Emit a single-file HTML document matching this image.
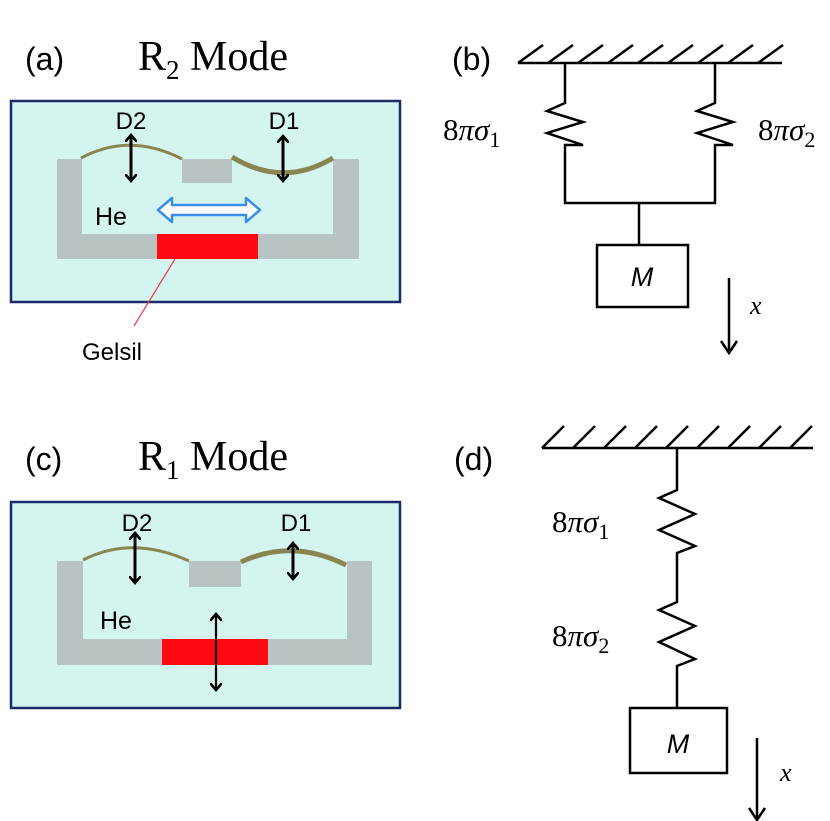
<!DOCTYPE html>
<html><head><meta charset="utf-8"><style>
html,body{margin:0;padding:0;background:#fff;}
svg{display:block;}
.s{font-family:"Liberation Sans",sans-serif;}
.r{font-family:"Liberation Serif",serif;}
</style></head><body>
<svg width="830" height="821" viewBox="0 0 830 821" xmlns="http://www.w3.org/2000/svg">
<defs>
<marker id="ah" markerWidth="12" markerHeight="12" refX="5" refY="6" orient="auto-start-reverse" markerUnits="userSpaceOnUse">
<path d="M0,0 L7,6 L0,12" fill="none" stroke="#000" stroke-width="2.6"/>
</marker>
</defs>
<!-- titles -->
<text x="25" y="70" class="s" font-size="32">(a)</text>
<text x="138" y="70" class="r" font-size="42">R<tspan font-size="27" dy="9">2</tspan><tspan dy="-9"> Mode</tspan></text>
<text x="25" y="470" class="s" font-size="32">(c)</text>
<text x="138" y="470" class="r" font-size="42">R<tspan font-size="27" dy="9">1</tspan><tspan dy="-9"> Mode</tspan></text>

<!-- panel a -->
<rect x="11" y="101" width="389" height="201" fill="#d4f5ef" stroke="#1a2a6a" stroke-width="2.5"/>
<path d="M57,159 H82 V234 H333 V159 H359 V259 H57 Z" fill="#b8c4c4"/>
<rect x="182" y="159" width="50" height="24" fill="#b8c4c4"/>
<rect x="157" y="234" width="101" height="25" fill="#ff0a12"/>
<path d="M81,158 Q130,132 182,159" fill="none" stroke="#8a8450" stroke-width="3"/>
<path d="M232,157 Q283,188 333,158" fill="none" stroke="#8a8450" stroke-width="5"/>
<line x1="131" y1="137" x2="131" y2="179" stroke="#000" stroke-width="3" marker-start="url(#ah)" marker-end="url(#ah)"/>
<line x1="283" y1="138" x2="283" y2="179" stroke="#000" stroke-width="3" marker-start="url(#ah)" marker-end="url(#ah)"/>
<text x="131" y="129" class="s" font-size="24" text-anchor="middle">D2</text>
<text x="284" y="129" class="s" font-size="24" text-anchor="middle">D1</text>
<text x="95" y="225" class="s" font-size="25">He</text>
<path d="M158,210 L172,198 V205 H246 V198 L260,210 L246,222 V215 H172 V222 Z" fill="#fff" stroke="#3a8ee8" stroke-width="2.5" stroke-linejoin="round"/>
<line x1="175" y1="259" x2="134" y2="326" stroke="#e84050" stroke-width="1.2"/>
<text x="82" y="360" class="s" font-size="24">Gelsil</text>

<!-- panel c -->
<rect x="11" y="502" width="389" height="206" fill="#d4f5ef" stroke="#1a2a6a" stroke-width="2.5"/>
<path d="M57,561 H83 V639 H347 V561 H372 V665 H57 Z" fill="#b8c4c4"/>
<rect x="189" y="561" width="52" height="26" fill="#b8c4c4"/>
<rect x="162" y="639" width="106" height="26" fill="#ff0a12"/>
<path d="M83,560 Q132,535 189,561" fill="none" stroke="#8a8450" stroke-width="3"/>
<path d="M241,562 Q292,538 346,565" fill="none" stroke="#8a8450" stroke-width="5"/>
<line x1="135" y1="535" x2="135" y2="581" stroke="#000" stroke-width="3" marker-start="url(#ah)" marker-end="url(#ah)"/>
<line x1="293" y1="545" x2="293" y2="577" stroke="#000" stroke-width="3" marker-start="url(#ah)" marker-end="url(#ah)"/>
<line x1="216" y1="616" x2="216" y2="688" stroke="#000" stroke-width="2.2" marker-start="url(#ah)" marker-end="url(#ah)"/>
<text x="137" y="531" class="s" font-size="24" text-anchor="middle">D2</text>
<text x="296" y="531" class="s" font-size="24" text-anchor="middle">D1</text>
<text x="100" y="629" class="s" font-size="25">He</text>

<!-- panel b -->
<text x="452" y="70" class="s" font-size="32">(b)</text>
<g stroke="#000" stroke-width="2.5" fill="none">
<line x1="518" y1="63" x2="782" y2="63"/>
<path d="M518,63 l25,-18 M548,63 l25,-18 M578,63 l25,-18 M608,63 l25,-18 M638,63 l25,-18 M668,63 l25,-18 M698,63 l25,-18 M728,63 l25,-18 M758,63 l25,-18"/>
<path d="M565,63 V103 L547,111 L583,122 L547,133 L583,145 L565,145 V203 H715 V145 L733,145 L697,133 L733,122 L697,111 L715,103 V63"/>
<line x1="639" y1="203" x2="639" y2="245"/>
<rect x="597" y="245" width="91" height="62"/>
<line x1="729" y1="278" x2="729" y2="351"/>
<path d="M721,341 L729,353 L737,341"/>
</g>
<text x="642" y="286" class="s" font-size="27" font-style="italic" text-anchor="middle">M</text>
<text x="750" y="314" class="r" font-size="26" font-style="italic">x</text>
<text x="443" y="140" class="r" font-size="31">8<tspan font-style="italic">πσ</tspan><tspan font-size="22" dy="7">1</tspan></text>
<text x="758" y="140" class="r" font-size="31">8<tspan font-style="italic">πσ</tspan><tspan font-size="22" dy="7">2</tspan></text>

<!-- panel d -->
<text x="454" y="470" class="s" font-size="32">(d)</text>
<g stroke="#000" stroke-width="2.5" fill="none">
<line x1="542" y1="448" x2="813" y2="448"/>
<path d="M542,448 l22,-22 M573,448 l22,-22 M604,448 l22,-22 M635,448 l22,-22 M666,448 l22,-22 M697,448 l22,-22 M728,448 l22,-22 M759,448 l22,-22 M790,448 l22,-22"/>
<path d="M677,448 V490 L659,498 L695,514 L659,530 L695,546 L677,553 V602 L659,610 L695,626 L659,642 L695,659 L677,666 V707"/>
<rect x="630" y="708" width="97" height="65"/>
<line x1="757" y1="738" x2="757" y2="818"/>
<path d="M749,808 L757,820 L765,808"/>
</g>
<text x="678" y="753" class="s" font-size="27" font-style="italic" text-anchor="middle">M</text>
<text x="780" y="781" class="r" font-size="26" font-style="italic">x</text>
<text x="552" y="532" class="r" font-size="31">8<tspan font-style="italic">πσ</tspan><tspan font-size="22" dy="7">1</tspan></text>
<text x="552" y="646" class="r" font-size="31">8<tspan font-style="italic">πσ</tspan><tspan font-size="22" dy="7">2</tspan></text>
</svg>
</body></html>
